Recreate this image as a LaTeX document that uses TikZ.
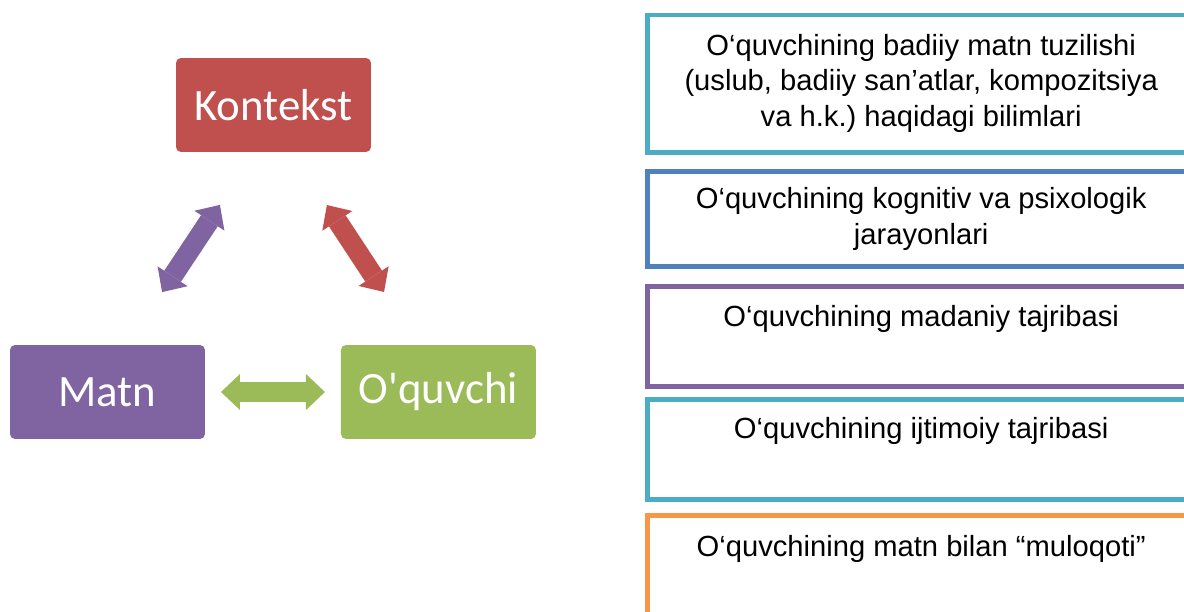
\documentclass[tikz,border=0pt]{standalone}
\usepackage{fontspec}
\usetikzlibrary{arrows.meta, positioning, calc}

\newfontfamily\calibrifont{Carlito}[Ligatures=TeXOff]
\newfontfamily\arialfont{Liberation Sans}

\definecolor{oqred}{HTML}{C0504D}
\definecolor{oqpurple}{HTML}{8064A2}
\definecolor{oqgreen}{HTML}{9BBB59}
\definecolor{oqblue}{HTML}{4F81BD}
\definecolor{oqaqua}{HTML}{4BACC6}
\definecolor{oqorange}{HTML}{F79646}

\begin{document}
\begin{tikzpicture}[
  x=0.02cm, y=-0.02cm,
  topic/.style={
    rounded corners=0.1cm,
    minimum width=3.9cm,
    minimum height=1.88cm,
    outer sep=0pt,
    text=white,
    font=\calibrifont\fontsize{25.5pt}{30pt}\selectfont
  },
  infobox/.style={
    draw,
    line width=0.1cm,
    minimum width=10.95cm,
    inner sep=2pt,
    outer sep=0pt,
    align=center,
    font=\arialfont\fontsize{16.6pt}{20.4pt}\selectfont
  },
  link/.style={
    line width=0.4cm,
    shorten <=1.27cm, shorten >=1.27cm,
    <->, >={Triangle[length=0.38cm, width=0.72cm, line width=0pt]}
  }
]
\useasboundingbox (0,0) rectangle (1184,612);
\clip (0,0) rectangle (1184,612);

% Triangle of topics
\node[topic, fill=oqred] (kontekst) at (273.5,105) {Kontekst};
\node[topic, fill=oqpurple] (matn) at (107.5,392) {Matn};
\node[topic, fill=oqgreen, right=2.72cm of matn] (oquvchi) {O'quvchi};

% Double arrows
\draw[link, oqpurple] ($(matn.north)+(19.5,0)$) -- ($(kontekst.south)+(-18.5,0)$);
\draw[link, oqred] ($(kontekst.south)+(18.5,0)$) -- ($(oquvchi.north)+(-19.5,0)$);
\draw[link, oqgreen, shorten <=0.32cm, shorten >=0.32cm] (matn) -- (oquvchi);

% Right column
\node[infobox, draw=oqaqua, minimum height=2.75cm, anchor=north west] (bilim) at (647.5,15)
  {O‘quvchining badiiy matn tuzilishi\strut\\ (uslub, badiiy san’atlar, kompozitsiya\strut\\ va h.k.)\ haqidagi bilimlari\strut};
\node[infobox, draw=oqblue, minimum height=1.9cm, below=0.39cm of bilim] (kognitiv)
  {O‘quvchining kognitiv va psixologik\strut\\ jarayonlari\strut};
\node[infobox, draw=oqpurple, minimum height=2cm, below=0.4cm of kognitiv] (madaniy)
  {O‘quvchining madaniy tajribasi\strut\\ \strut};
\node[infobox, draw=oqaqua, minimum height=1.99cm, below=0.26cm of madaniy] (ijtimoiy)
  {O‘quvchining ijtimoiy tajribasi\strut\\ \strut};
\node[infobox, draw=oqorange, minimum height=2.81cm, below=0.32cm of ijtimoiy] (muloqot)
  {O‘quvchining matn bilan “muloqoti”\strut\\ \strut\\ \strut};

\end{tikzpicture}
\end{document}
